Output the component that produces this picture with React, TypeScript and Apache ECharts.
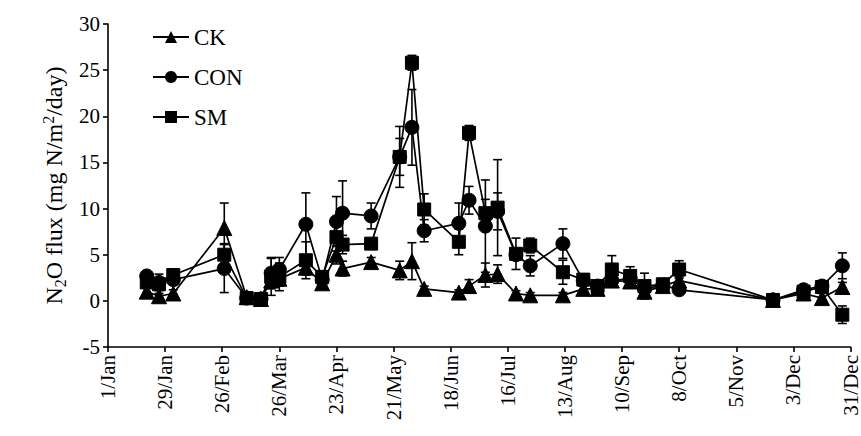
import React, { useEffect, useRef } from "react";
import * as echarts from "echarts";

// Day of year (0 = 1/Jan) of each sampling date
const days = [19, 25, 32, 57, 68, 75, 80, 84, 97, 105, 112, 115, 129, 143, 149, 155, 172, 177, 185, 191, 200, 207, 223, 233, 240, 247, 256, 263, 272, 280, 326, 341, 350, 360];

const ckValues = [1.0, 0.5, 0.8, 7.9, 0.4, 0.2, 2.2, 2.4, 3.6, 1.9, 5.0, 3.5, 4.2, 3.3, 4.3, 1.3, 0.9, 1.6, 2.8, 2.9, 0.8, 0.6, 0.6, 1.3, 1.3, 2.2, 2.1, 1.0, 1.6, 2.2, 0.1, 0.8, 0.3, 1.5];
const ckErrors = [0.4, 0.3, 0.4, 2.7, 0.3, 0.2, 0.8, 0.8, 0.8, 0.5, 1.0, 0.8, 0.5, 1.0, 2.0, 0.3, 0.3, 0.7, 1.3, 1.0, 0.3, 0.3, 0.3, 0.3, 0.3, 0.4, 0.4, 0.3, 0.3, 0.4, 0.2, 0.3, 0.5, 0.5];

const conValues = [2.7, 2.0, 2.3, 3.5, 0.3, 0.2, 3.0, 3.4, 8.3, 2.3, 8.6, 9.5, 9.2, 15.6, 18.8, 7.6, 8.4, 10.9, 8.1, 9.7, 5.0, 3.8, 6.2, 2.2, 1.6, 2.2, 2.4, 1.3, 1.7, 1.2, 0.1, 1.2, 1.6, 3.8];
const conErrors = [0.4, 0.9, 0.5, 2.6, 0.3, 0.2, 1.7, 1.3, 3.4, 0.5, 2.7, 3.5, 1.4, 2.0, 4.1, 1.2, 2.2, 1.5, 5.0, 2.0, 0.5, 1.1, 1.6, 0.4, 0.3, 0.5, 0.4, 0.3, 0.3, 0.4, 0.2, 0.3, 0.3, 1.4];

const smValues = [2.0, 1.8, 2.8, 5.0, 0.3, 0.2, 2.6, 2.6, 4.4, 2.6, 6.9, 6.1, 6.2, 15.6, 25.8, 9.9, 6.4, 18.2, 9.5, 10.1, 5.1, 6.0, 3.1, 2.3, 1.6, 3.4, 2.7, 1.6, 1.8, 3.4, 0.1, 1.0, 1.5, -1.5];
const smErrors = [0.5, 0.5, 0.6, 1.2, 0.3, 0.2, 2.0, 1.5, 2.0, 0.4, 1.5, 1.0, 0.5, 3.3, 0.8, 1.7, 1.4, 0.8, 1.5, 5.2, 1.7, 0.8, 1.3, 0.5, 0.3, 1.5, 1.0, 1.4, 0.4, 0.95, 0.2, 0.3, 0.4, 0.95];

const xTickLabels = ["1/Jan", "29/Jan", "26/Feb", "26/Mar", "23/Apr", "21/May", "18/Jun", "16/Jul", "13/Aug", "10/Sep", "8/Oct", "5/Nov", "3/Dec", "31/Dec"];

const FONT = "Liberation Serif";

export default function App() {
  const ref = useRef<HTMLDivElement>(null);

  useEffect(() => {
    document.body.style.margin = "0";
    if (!ref.current) return;
    const chart = echarts.init(ref.current, undefined, { renderer: "svg" });

    const pts = (vals: number[]) => days.map((d, i) => [d, vals[i]]);
    const errs = (vals: number[], e: number[]) => days.map((d, i) => [d, vals[i] - e[i], vals[i] + e[i]]);

    const errSeries = (name: string, vals: number[], e: number[]) => ({
      type: "custom",
      name: name + "-err",
      silent: true,
      z: 1,
      encode: { x: 0, y: [1, 2] },
      data: errs(vals, e),
      renderItem: (params: any, api: any) => {
        const x = api.value(0);
        const lo = api.coord([x, api.value(1)]);
        const hi = api.coord([x, api.value(2)]);
        const w = 4.5;
        const st = { stroke: "#000", lineWidth: 1.6 };
        return {
          type: "group",
          children: [
            { type: "line", shape: { x1: lo[0], y1: lo[1], x2: hi[0], y2: hi[1] }, style: st },
            { type: "line", shape: { x1: lo[0] - w, y1: lo[1], x2: lo[0] + w, y2: lo[1] }, style: st },
            { type: "line", shape: { x1: hi[0] - w, y1: hi[1], x2: hi[0] + w, y2: hi[1] }, style: st },
          ],
        };
      },
    });

    const lineSeries = (name: string, vals: number[], symbol: string, size: number) => ({
      type: "line",
      name,
      data: pts(vals),
      symbol,
      symbolSize: size,
      z: 3,
      lineStyle: { color: "#000", width: 1.7 },
      itemStyle: { color: "#000", borderColor: "#000" },
    });

    chart.setOption({
      animation: false,
      backgroundColor: "#fff",
      textStyle: { fontFamily: FONT },
      grid: { left: 108, right: 9, top: 24, bottom: 89 },
      legend: {
        orient: "vertical",
        left: 152,
        top: 25,
        padding: 0,
        itemWidth: 36,
        itemHeight: 15,
        itemGap: 16,
        data: ["CK", "CON", "SM"],
        textStyle: { fontFamily: FONT, fontSize: 23, color: "#000", lineHeight: 24 },
      },
      xAxis: {
        type: "value",
        min: 0,
        max: 364,
        interval: 28,
        axisLine: { onZero: false, lineStyle: { color: "#000", width: 1.6 } },
        axisTick: { show: true, length: 5, lineStyle: { color: "#000", width: 1.6 } },
        splitLine: { show: false },
        axisLabel: {
          rotate: 90,
          margin: 8,
          color: "#000",
          fontFamily: FONT,
          fontSize: 21,
          formatter: (v: number) => xTickLabels[Math.round(v / 28)] ?? "",
        },
      },
      yAxis: {
        type: "value",
        min: -5,
        max: 30,
        interval: 5,
        name: "{a|N}{s|2}{a|O flux (mg N/m}{p|2}{a|/day)}",
        nameLocation: "middle",
        nameGap: 38,
        nameTextStyle: {
          rich: {
            a: { fontFamily: FONT, fontSize: 24, color: "#000", lineHeight: 28 },
            s: { fontFamily: FONT, fontSize: 16, color: "#000", lineHeight: 16, verticalAlign: "bottom" },
            p: { fontFamily: FONT, fontSize: 16, color: "#000", lineHeight: 16, verticalAlign: "top" },
          },
        },
        axisLine: { show: true, lineStyle: { color: "#000", width: 1.6 } },
        axisTick: { show: true, length: 5, lineStyle: { color: "#000", width: 1.6 } },
        splitLine: { show: false },
        axisLabel: { margin: 8, color: "#000", fontFamily: FONT, fontSize: 21 },
      },
      series: [
        errSeries("CK", ckValues, ckErrors),
        errSeries("CON", conValues, conErrors),
        errSeries("SM", smValues, smErrors),
        lineSeries("CK", ckValues, "triangle", 15),
        lineSeries("CON", conValues, "circle", 14),
        lineSeries("SM", smValues, "rect", 13),
      ],
    });

    return () => chart.dispose();
  }, []);

  return <div ref={ref} style={{ width: 861, height: 436 }} />;
}
